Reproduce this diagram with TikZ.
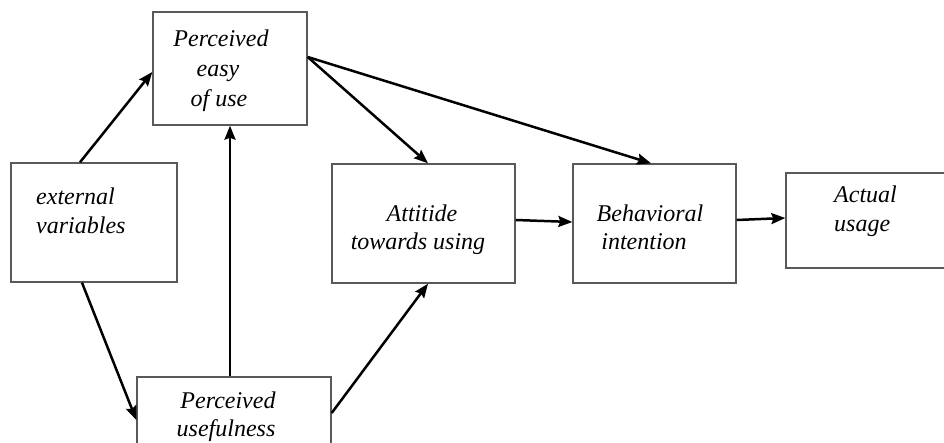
\documentclass[tikz,border=0pt]{standalone}
\usepackage{fontspec}
\setmainfont{Liberation Serif}
\usetikzlibrary{arrows.meta}
\begin{document}
\begin{tikzpicture}[x=1pt,y=-1pt,
  box/.style={draw=black!65,line width=1.4pt,inner sep=0pt,fill=white},
  lbl/.style={inner sep=0pt,font=\fontsize{24}{30}\selectfont\itshape},
  arr/.style={draw=black,line width=2.5pt,-{Stealth[length=14pt,width=11pt,inset=2pt]}}]
\useasboundingbox (0,0) rectangle (944,443);
\clip (0,0) rectangle (944,443);
\node[box,minimum width=154pt,minimum height=113pt] (peou) at (230,68.5) {};
\node[box,minimum width=166pt,minimum height=119pt] (ext) at (94,222.5) {};
\node[box,minimum width=194pt,minimum height=86pt] (pu) at (234,420) {};
\node[box,minimum width=183pt,minimum height=119pt] (att) at (423.5,223.5) {};
\node[box,minimum width=163pt,minimum height=119pt] (bi) at (654.5,223.5) {};
\node[box,minimum width=164pt,minimum height=95pt] (au) at (868,220.5) {};
% labels
\node[lbl,anchor=base] (peou1) at (221,47) {Perceived};
\node[lbl,anchor=base] (peou2) at (218,77) {easy};
\node[lbl,anchor=base] (peou3) at (219,107) {of use};
\node[lbl,anchor=base west] (ext1) at (36,205) {external};
\node[lbl,anchor=base west] (ext2) at (36,234) {variables};
\node[lbl,anchor=base] (att1) at (422,222) {Attitide};
\node[lbl,anchor=base] (att2) at (418,250) {towards using};
\node[lbl,anchor=base] (bi1) at (650,222) {Behavioral};
\node[lbl,anchor=base] (bi2) at (644,250) {intention};
\node[lbl,anchor=base west] (au1) at (834,203) {Actual};
\node[lbl,anchor=base west] (au2) at (834,232) {usage};
\node[lbl,anchor=base] (pu1) at (228,408) {Perceived};
\node[lbl,anchor=base] (pu2) at (226,436) {usefulness};
% arrows
\draw[arr] ([xshift=-14pt]ext.north) -- ([yshift=-3.5pt]peou.west);
\draw[arr] ([xshift=-12pt]ext.south) -- (pu.west);
\draw[arr] ([xshift=-4pt]pu.north) -- ([xshift=-4pt]pu.north |- peou.south);
\draw[arr] ([yshift=7pt]pu.east) -- ([xshift=4.5pt]att.south);
\draw[arr] ([yshift=11.5pt]peou.east) -- ([xshift=4.5pt]att.north);
\draw[arr] ([yshift=11.5pt]peou.east) -- ([xshift=-3.5pt]bi.north);
\draw[arr] ([yshift=3.5pt]att.east) -- ([yshift=1.5pt]bi.west);
\draw[arr] ([yshift=3.5pt]bi.east) -- ([yshift=2.5pt]au.west);
\end{tikzpicture}
\end{document}
